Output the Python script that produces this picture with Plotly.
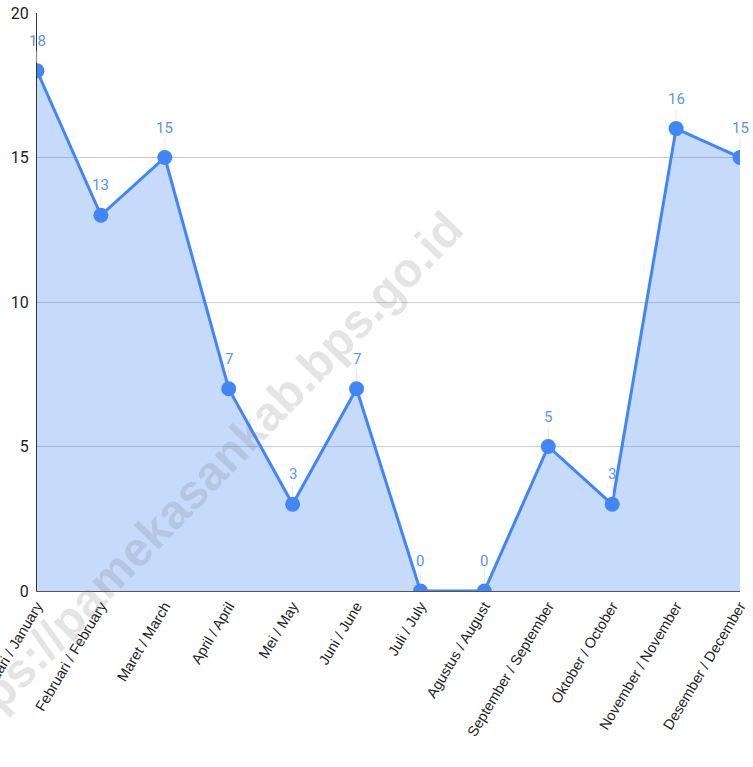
import plotly.graph_objects as go

months = ["Januari / January", "Februari / February", "Maret / March", "April / April",
          "Mei / May", "Juni / June", "Juli / July", "Agustus / August",
          "September / September", "Oktober / October", "November / November",
          "Desember / December"]
values = [18, 13, 15, 7, 3, 7, 0, 0, 5, 3, 16, 15]
y_ticks = [0, 5, 10, 15, 20]
watermark = "https://pamekasankab.bps.go.id"

fig = go.Figure()
fig.add_trace(go.Scatter(
    x=months, y=values, mode="lines+markers",
    line=dict(color="#4285f4", width=3),
    marker=dict(color="#4285f4", size=15),
    fill="tozeroy", fillcolor="rgba(66,133,244,0.3)",
    cliponaxis=True, hoverinfo="skip",
))

for m, v in zip(months, values):
    fig.add_annotation(
        x=m, y=v, text=str(v), showarrow=True, arrowhead=0, arrowwidth=1,
        arrowcolor="#e6e6e6", ax=0, ay=-30, standoff=8,
        font=dict(family="Roboto, Arial", size=15, color="#5b93f2"),
    )

fig.add_annotation(
    xref="paper", yref="paper", x=0.233, y=0.187, text=watermark,
    xanchor="center", yanchor="middle",
    showarrow=False, textangle=-46,
    font=dict(family="Liberation Sans, Arial", size=48, color="rgba(120,120,120,0.2)", weight="bold"),
)

fig.update_layout(
    width=753, height=767,
    margin=dict(l=37, r=13, t=13, b=176, autoexpand=False),
    plot_bgcolor="white", paper_bgcolor="white",
    showlegend=False,
    xaxis=dict(
        range=[0, 11], tickangle=-59, showgrid=False, automargin=False,
        showline=True, linecolor="#555", linewidth=1,
        tickfont=dict(family="Liberation Sans, Arial", size=14.5, color="#222"),
        ticks="", fixedrange=True,
    ),
    yaxis=dict(
        range=[0, 20], tickvals=y_ticks, showgrid=True, gridcolor="#cccccc",
        showline=True, linecolor="#333", linewidth=1, zeroline=False, automargin=False,
        tickfont=dict(family="Roboto, Arial", size=16, color="#222"),
        ticks="", ticklabelstandoff=4, fixedrange=True,
    ),
)

fig.write_html("out.html", config={"displayModeBar": False, "staticPlot": True})
with open("out.html", encoding="utf-8") as f:
    html = f.read()
html = html.replace("<body>", '<body style="margin:0;overflow:hidden">', 1)
with open("out.html", "w", encoding="utf-8") as f:
    f.write(html)
